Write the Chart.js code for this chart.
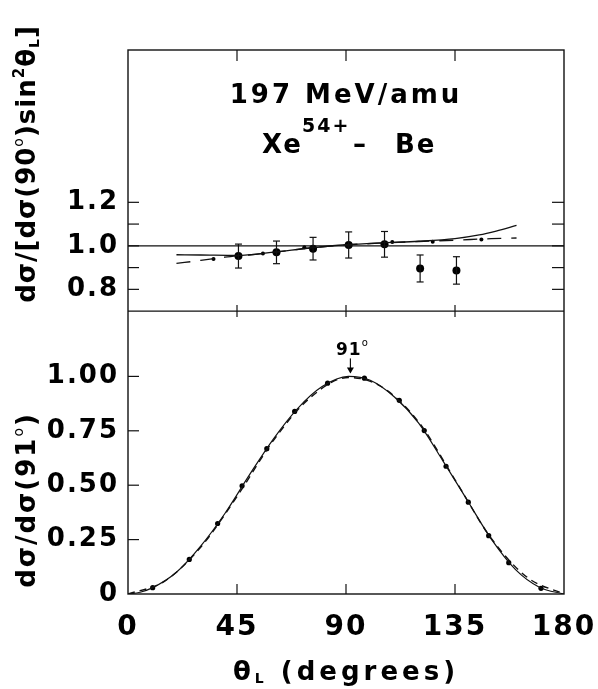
<!DOCTYPE html>
<html>
<head>
<meta charset="utf-8">
<script src="https://cdn.jsdelivr.net/npm/chart.js@4.4.1/dist/chart.umd.min.js"></script>
<style>
  body { margin: 0; background: #fff; }
</style>
</head>
<body>
<canvas id="chart" width="598" height="689"></canvas>
<script>
const FONT = '"DejaVu Sans", "Liberation Sans", sans-serif';
const INK = '#111';

// lower panel: dσ/dσ(91°) vs θL
const fitAngle = [0, 5, 10, 20, 30, 40, 50, 60, 70, 80, 91, 100, 110, 120, 130, 140, 150, 160, 170, 180];
const fitNorm  = [0, 0.008, 0.028, 0.100, 0.220, 0.370, 0.545, 0.712, 0.852, 0.952, 1.000, 0.982, 0.905, 0.785, 0.612, 0.432, 0.252, 0.112, 0.030, 0];
const altAngle = [0, 15, 30, 45, 60, 75, 91, 105, 120, 135, 150, 165, 180];
const altNorm  = [0, 0.058, 0.215, 0.448, 0.705, 0.900, 0.995, 0.950, 0.790, 0.525, 0.255, 0.075, 0];
const dataAngle = [10.2, 25.3, 37.0, 47.1, 57.3, 68.8, 82.4, 97.6, 112.0, 122.3, 131.3, 140.5, 148.9, 157.2, 170.5];
const dataNorm  = [0.029, 0.159, 0.324, 0.497, 0.668, 0.839, 0.969, 0.992, 0.890, 0.751, 0.587, 0.422, 0.268, 0.144, 0.026];

// upper panel: dσ/[dσ(90°) sin²θL]
const refAngle = [0, 180];
const refRatio = [1, 1];
const curveAngle = [20, 30, 45, 60, 75, 90, 105, 120, 135, 145, 152, 160.4];
const curveRatio = [0.959, 0.958, 0.956, 0.971, 0.990, 1.005, 1.014, 1.021, 1.033, 1.050, 1.068, 1.094];
const dashAngle = [20, 30, 40, 50, 60, 75, 90, 105, 120, 135, 150, 160.4];
const dashRatio = [0.919, 0.933, 0.948, 0.958, 0.970, 0.990, 1.004, 1.013, 1.020, 1.026, 1.033, 1.036];
const smallAngle = [35.3, 55.7, 72.8, 109.1, 125.8, 145.9];
const smallRatio = [0.939, 0.965, 0.993, 1.018, 1.019, 1.029];
const ratioAngle = [45.6, 61.3, 76.4, 91.1, 105.9, 120.6, 135.6];
const ratioVal   = [0.953, 0.970, 0.987, 1.004, 1.007, 0.896, 0.887];
const ratioErr   = [0.055, 0.052, 0.052, 0.060, 0.059, 0.062, 0.063];

// ticks
const xTicks = [0, 45, 90, 135, 180];
const botTicks = [0, 0.25, 0.5, 0.75, 1.0];
const botLabels = ['0', '0.25', '0.50', '0.75', '1.00'];
const topTicks = [0.8, 0.9, 1.0, 1.1, 1.2];
const topLabels = ['0.8', '', '1.0', '', '1.2'];

const pts = (xs, ys) => xs.map((v, i) => ({x: v, y: ys[i]}));

function line(ctx, x1, y1, x2, y2) {
  ctx.beginPath();
  ctx.moveTo(x1, y1);
  ctx.lineTo(x2, y2);
  ctx.stroke();
}

// draws text pieces one after the other; each piece can be raised or lowered
function runs(ctx, parts, x, y, spacing) {
  ctx.letterSpacing = spacing + 'px';
  let w = 0;
  parts.forEach(p => {
    ctx.font = `${p.weight || 'bold'} ${p.size}px ${FONT}`;
    p.w = ctx.measureText(p.t).width;
    w += p.w;
  });
  let cx = x - w / 2;
  parts.forEach(p => {
    ctx.font = `${p.weight || 'bold'} ${p.size}px ${FONT}`;
    ctx.fillText(p.t, cx, y + (p.dy || 0));
    cx += p.w;
  });
}

const spacing = {
  id: 'spacing',
  beforeDraw(chart) { chart.ctx.letterSpacing = '2px'; }
};

const frame = {
  id: 'frame',
  afterDraw(chart) {
    const {ctx, chartArea: a, scales: {x, yT, yB}} = chart;
    const sep = yT.getPixelForValue(yT.min);
    ctx.save();
    ctx.strokeStyle = INK;
    ctx.lineWidth = 1.4;
    ctx.strokeRect(a.left, a.top, a.right - a.left, a.bottom - a.top);
    line(ctx, a.left, sep, a.right, sep);
    ctx.lineWidth = 1.2;
    [45, 90, 135].forEach(v => {
      const px = x.getPixelForValue(v);
      line(ctx, px, a.top, px, a.top + 11);
      line(ctx, px, sep - 6, px, sep + 6);
      line(ctx, px, a.bottom, px, a.bottom - 10);
    });
    topTicks.forEach(v => {
      const py = yT.getPixelForValue(v);
      line(ctx, a.left, py, a.left + 11, py);
      line(ctx, a.right, py, a.right - 12, py);
    });
    botTicks.forEach(v => {
      if (v === 0) return;
      const py = yB.getPixelForValue(v);
      line(ctx, a.left, py, a.left + 11, py);
    });
    ctx.restore();
  }
};

const errorBars = {
  id: 'errorBars',
  afterDatasetsDraw(chart) {
    const {ctx, scales: {x, yT}} = chart;
    ctx.save();
    ctx.strokeStyle = INK;
    ctx.lineWidth = 1.2;
    ratioAngle.forEach((ang, i) => {
      const px = x.getPixelForValue(ang);
      const hi = yT.getPixelForValue(ratioVal[i] + ratioErr[i]);
      const lo = yT.getPixelForValue(ratioVal[i] - ratioErr[i]);
      line(ctx, px, hi, px, lo);
      line(ctx, px - 3.5, hi, px + 3.5, hi);
      line(ctx, px - 3.5, lo, px + 3.5, lo);
    });
    ctx.restore();
  }
};

const texts = {
  id: 'texts',
  afterDraw(chart) {
    const {ctx, chartArea: a, scales: {x, yB}} = chart;
    const cx = (a.left + a.right) / 2;
    ctx.save();
    ctx.fillStyle = '#000';
    ctx.textBaseline = 'alphabetic';
    ctx.textAlign = 'left';

    // panel title
    runs(ctx, [{t: '197 MeV/amu', size: 26}], cx, a.top + 53, 3);
    ctx.letterSpacing = '2px';
    ctx.font = `bold 26px ${FONT}`;
    ctx.fillText('Xe', cx - 84, a.top + 103);
    ctx.font = `bold 19px ${FONT}`;
    ctx.fillText('54+', cx - 44, a.top + 82);
    ctx.font = `bold 26px ${FONT}`;
    ctx.fillText('–', cx + 7, a.top + 103);
    ctx.fillText('Be', cx + 49, a.top + 103);

    // peak marker
    const px = x.getPixelForValue(91);
    const peak = yB.getPixelForValue(1.0);
    runs(ctx, [{t: '91', size: 17}, {t: 'o', size: 10, dy: -9, weight: 'normal'}], px + 4, peak - 21, 1);
    ctx.strokeStyle = INK;
    ctx.lineWidth = 1.2;
    line(ctx, px + 2, peak - 18, px + 2, peak - 4);
    ctx.beginPath();
    ctx.moveTo(px - 1.5, peak - 9);
    ctx.lineTo(px + 5.5, peak - 9);
    ctx.lineTo(px + 2, peak - 3);
    ctx.closePath();
    ctx.fill();

    // x title
    runs(ctx, [{t: 'θ', size: 26}, {t: 'L', size: 14, dy: 3}, {t: ' (degrees)', size: 26}], cx, 680, 4);

    // y titles, rotated
    ctx.save();
    ctx.translate(35, 164);
    ctx.rotate(-Math.PI / 2);
    runs(ctx, [
      {t: 'dσ/[dσ(90', size: 26},
      {t: 'o', size: 14, dy: -12, weight: 'normal'},
      {t: ')sin', size: 26},
      {t: '2', size: 15, dy: -11},
      {t: 'θ', size: 26},
      {t: 'L', size: 14, dy: 4},
      {t: ']', size: 26}
    ], 0, 0, 1);
    ctx.restore();

    ctx.save();
    ctx.translate(35, 500);
    ctx.rotate(-Math.PI / 2);
    runs(ctx, [
      {t: 'dσ/dσ(91', size: 26},
      {t: 'o', size: 14, dy: -12, weight: 'normal'},
      {t: ')', size: 26}
    ], 0, 0, 2);
    ctx.restore();

    ctx.restore();
  }
};

const tickFont = size => ({family: FONT, size: size, weight: 'bold'});

new Chart(document.getElementById('chart'), {
  type: 'scatter',
  data: {
    datasets: [
      {data: pts(fitAngle, fitNorm), yAxisID: 'yB', showLine: true, pointRadius: 0,
       borderColor: INK, borderWidth: 1.2, cubicInterpolationMode: 'monotone'},
      {data: pts(altAngle, altNorm), yAxisID: 'yB', showLine: true, pointRadius: 0,
       borderColor: INK, borderWidth: 1.4, borderDash: [7, 5], cubicInterpolationMode: 'monotone'},
      {data: pts(dataAngle, dataNorm), yAxisID: 'yB', pointRadius: 2.6,
       backgroundColor: '#000', borderColor: '#000', borderWidth: 0},
      {data: pts(refAngle, refRatio), yAxisID: 'yT', showLine: true, pointRadius: 0,
       borderColor: INK, borderWidth: 1.3},
      {data: pts(curveAngle, curveRatio), yAxisID: 'yT', showLine: true, pointRadius: 0,
       borderColor: INK, borderWidth: 1.3, cubicInterpolationMode: 'monotone'},
      {data: pts(dashAngle, dashRatio), yAxisID: 'yT', showLine: true, pointRadius: 0,
       borderColor: INK, borderWidth: 1.3, borderDash: [14, 10], cubicInterpolationMode: 'monotone'},
      {data: pts(smallAngle, smallRatio), yAxisID: 'yT', pointRadius: 2,
       backgroundColor: '#000', borderWidth: 0},
      {data: pts(ratioAngle, ratioVal), yAxisID: 'yT', pointRadius: 4,
       backgroundColor: '#000', borderWidth: 0}
    ]
  },
  options: {
    responsive: false,
    animation: false,
    layout: {padding: {top: 50, right: 34, left: 0, bottom: 0}},
    plugins: {legend: {display: false}, tooltip: {enabled: false}},
    scales: {
      x: {
        type: 'linear', min: 0, max: 180,
        afterFit: s => { s.height = 95; s.paddingLeft = 0; s.paddingRight = 0; },
        afterBuildTicks: s => { s.ticks = xTicks.map(v => ({value: v})); },
        ticks: {font: tickFont(28), color: '#000', padding: 9, maxRotation: 0, autoSkip: false,
                callback: v => String(v)},
        grid: {display: false},
        border: {display: false}
      },
      yB: {
        type: 'linear', position: 'left', min: 0, max: 1.3,
        stack: 'panels', stackWeight: 1.3,
        afterFit: s => { s.width = 128; },
        afterBuildTicks: s => { s.ticks = botTicks.map(v => ({value: v})); },
        ticks: {font: tickFont(26), color: '#000', padding: 1,
                callback: (v, i) => botLabels[i]},
        grid: {display: false},
        border: {display: false}
      },
      yT: {
        type: 'linear', position: 'left', min: 0.7, max: 1.9,
        stack: 'panels', stackWeight: 1.2,
        afterFit: s => { s.width = 128; },
        afterBuildTicks: s => { s.ticks = topTicks.map(v => ({value: v})); },
        ticks: {font: tickFont(26), color: '#000', padding: 1,
                callback: (v, i) => topLabels[i]},
        grid: {display: false},
        border: {display: false}
      }
    }
  },
  plugins: [spacing, frame, errorBars, texts]
});
</script>
</body>
</html>
